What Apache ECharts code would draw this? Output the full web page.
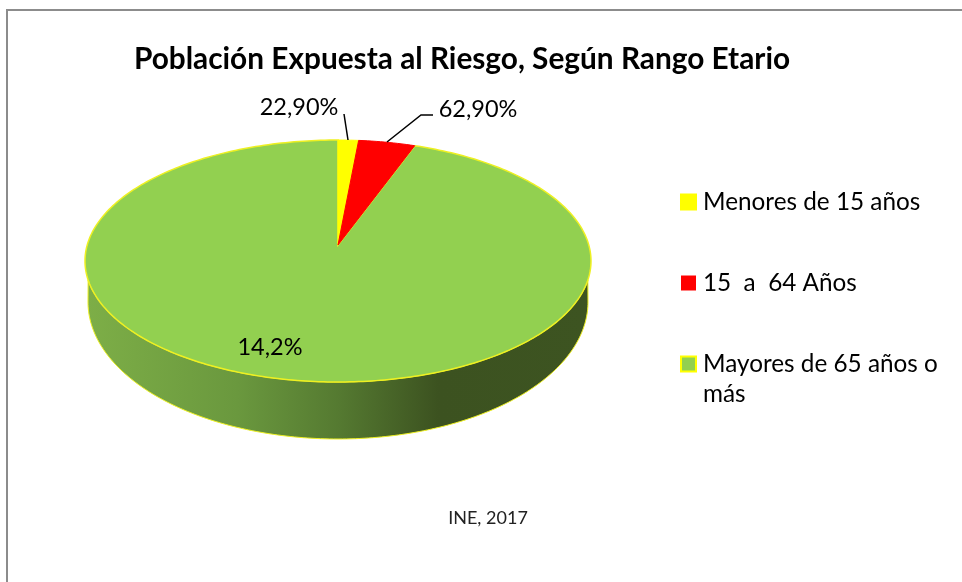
<!DOCTYPE html>
<html lang="es">
<head>
    <meta charset="utf-8">
    <title>Población Expuesta al Riesgo</title>
    <script src="https://cdn.jsdelivr.net/npm/echarts@6/dist/echarts.min.js"></script>
    <style>
        html, body { margin: 0; padding: 0; background: #fff; }
        #chart { width: 962px; height: 582px; }
    </style>
</head>
<body>
<div id="chart"></div>
<script type="text/javascript">
    var categories = ['Menores de 15 años', '15  a  64 Años', 'Mayores de 65 años o más'];
    // share of the drawn pie
    var values = [1.3, 3.6, 95.1];
    // the labels printed in the picture (they do not match the slice sizes)
    var sliceLabels = ['22,90%', '62,90%', '14,2%'];
    var colors = ['#FFFF00', '#FF0000', '#92D050'];

    var FONT = 'Lato, "Open Sans", sans-serif';
    var OUTLINE = '#EEF022';
    var total = values.reduce(function (a, b) { return a + b; }, 0);

    // tilted pie geometry
    var top_ = { cx: 338, cy: 261, rx: 253, ry: 121, apexY: 245 };
    var bottom_ = { cx: 338, cy: 302, rx: 250, ry: 137 };

    function ellipsePoint(e, deg) {
        var a = deg * Math.PI / 180;
        return [e.cx + e.rx * Math.sin(a), e.cy - e.ry * Math.cos(a)];
    }

    function arc(e, from, to) {
        var pts = [];
        var n = Math.max(2, Math.ceil(Math.abs(to - from)));
        for (var i = 0; i <= n; i++) {
            pts.push(ellipsePoint(e, from + (to - from) * i / n));
        }
        return pts;
    }

    // wall visible under the front of the pie
    function wallElement() {
        var pts = arc(top_, 99, 261).concat(arc(bottom_, 270, 90));
        return {
            type: 'polygon',
            shape: { points: pts },
            style: {
                fill: new echarts.graphic.LinearGradient(0, 0, 1, 0, [
                    { offset: 0, color: '#7DAE47' },
                    { offset: 0.3, color: '#6A983E' },
                    { offset: 0.5, color: '#557A31' },
                    { offset: 0.7, color: '#3C5220' },
                    { offset: 1, color: '#3D5421' }
                ]),
                stroke: OUTLINE,
                lineWidth: 1
            }
        };
    }

    function leader(points) {
        return {
            type: 'polyline',
            shape: { points: points },
            style: { stroke: '#000', lineWidth: 1.5, fill: null }
        };
    }

    function labelText(text, x, y) {
        return {
            type: 'text',
            style: {
                x: x, y: y, text: text, fill: '#000',
                font: '23.5px ' + FONT, align: 'center', verticalAlign: 'middle'
            }
        };
    }

    var labelParts = [
        function (t) { return [leader([[344, 114], [348, 140]]), labelText(t, 299, 107)]; },
        function (t) { return [leader([[387, 142], [421, 115], [433, 115]]), labelText(t, 478, 109)]; },
        function (t) { return [labelText(t, 270, 347)]; }
    ];

    var series = categories.map(function (name, idx) {
        var before = 0;
        for (var i = 0; i < idx; i++) before += values[i];
        return {
            name: name,
            type: 'custom',
            coordinateSystem: 'none',
            silent: true,
            z: idx === 2 ? 2 : 3,
            itemStyle: { color: colors[idx] },
            data: [[values[idx]]],
            renderItem: function (params, api) {
                var from = before / total * 360;
                var to = (before + api.value(0)) / total * 360;
                var pts = [[top_.cx, top_.apexY]].concat(arc(top_, from, to));
                var children = [];
                if (idx === 2) children.push(wallElement());
                children.push({
                    type: 'polygon',
                    shape: { points: pts },
                    style: { fill: colors[idx], stroke: idx === 2 ? OUTLINE : colors[idx], lineWidth: idx === 2 ? 1.5 : 1 }
                });
                return { type: 'group', children: children.concat(labelParts[idx](sliceLabels[idx])) };
            }
        };
    });

    var chart = echarts.init(document.getElementById('chart'));
    chart.setOption({
        animation: false,
        backgroundColor: '#fff',
        title: [
            {
                text: 'Población Expuesta al Riesgo, Según Rango Etario',
                left: 457, top: 54, textAlign: 'center', textVerticalAlign: 'middle',
                textStyle: { color: '#000', fontFamily: FONT, fontWeight: 'bold', fontSize: 29.8 }
            },
            {
                text: 'INE, 2017',
                left: 483, top: 513, textAlign: 'center', textVerticalAlign: 'middle',
                textStyle: { color: '#222', fontFamily: FONT, fontWeight: 'normal', fontSize: 18 }
            }
        ],
        legend: {
            orient: 'vertical',
            left: 675,
            top: 185,
            itemWidth: 15,
            itemHeight: 15,
            itemGap: 57,
            selectedMode: false,
            icon: 'rect',
            textStyle: { color: '#000', fontFamily: FONT, fontSize: 24.3, padding: [0, 0, 0, 2], lineHeight: 24 },
            formatter: function (name) { return name.replace(/ más$/, ''); },
            data: categories.map(function (name, i) {
                return {
                    name: name,
                    itemStyle: { color: colors[i], borderColor: i === 1 ? colors[i] : '#FFFF00', borderWidth: i === 1 ? 0 : 2 }
                };
            })
        },
        graphic: [
            { type: 'line', silent: true, shape: { x1: 7, y1: 10, x2: 962, y2: 10 }, style: { stroke: '#8C8C8C', lineWidth: 2 } },
            { type: 'line', silent: true, shape: { x1: 7, y1: 9, x2: 7, y2: 582 }, style: { stroke: '#8C8C8C', lineWidth: 2 } },
            { type: 'text', silent: true, x: 703, y: 394, style: { text: 'más', fill: '#000', font: '24.3px ' + FONT, verticalAlign: 'middle' } }
        ],
        series: series
    });
</script>
</body>
</html>
